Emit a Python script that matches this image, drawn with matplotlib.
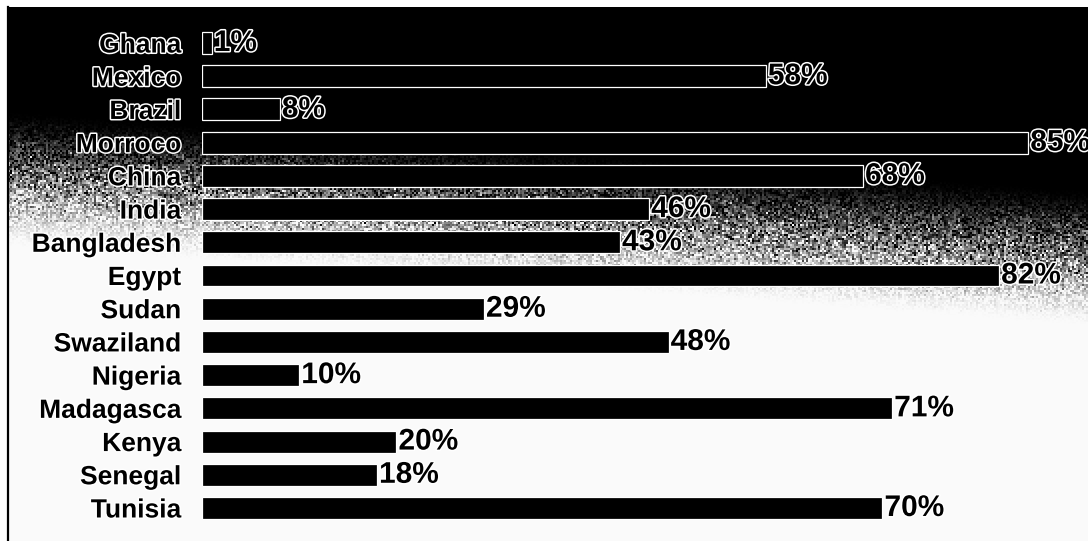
import numpy as np
import matplotlib
matplotlib.use("Agg")
import matplotlib.pyplot as plt
import matplotlib.patheffects as pe
from matplotlib.lines import Line2D

plt.rcParams['font.family'] = ['Liberation Sans', 'DejaVu Sans']

countries = ["Ghana", "Mexico", "Brazil", "Morroco", "China", "India",
             "Bangladesh", "Egypt", "Sudan", "Swaziland", "Nigeria",
             "Madagasca", "Kenya", "Senegal", "Tunisia"]
shares = [1, 58, 8, 85, 68, 46, 43, 82, 29, 48, 10, 71, 20, 18, 70]

W, H = 1088, 541
fig = plt.figure(figsize=(W / 100, H / 100), dpi=100)

# dark sky at the top fading into paper white, boundary tilted left-to-right,
# with coarse print grain inside the fade band
bg = fig.add_axes([0, 0, 1, 1])
yy, xx = np.mgrid[0:H, 0:W]
centre = 178 + 80 * (xx / W)
t = np.clip((yy - centre + 70) / 140.0, 0, 1)
shade = t * t * (3 - 2 * t)
coarse = np.random.default_rng(7).normal(0, 1, (H // 2 + 1, W // 2 + 1))
grain = np.kron(coarse, np.ones((2, 2)))[:H, :W]
band = 4 * shade * (1 - shade)
shade = np.clip(shade + 0.3 * band * grain, 0, 1)
shade = 0.98 * shade
shade[:7, :] = 1.0
shade[:, :7] = 1.0
bg.imshow(shade, cmap="gray", vmin=0, vmax=1, aspect="auto",
          interpolation="nearest", extent=[0, W, H, 0])
bg.set_xlim(0, W)
bg.set_ylim(H, 0)
bg.axis("off")
bg.add_line(Line2D([7.5, 7.5], [7, H], color="black", linewidth=1.6))

# bar axes: category 0 centred 43 px from the top, 33.2 px per row
left_px = 202
step = 33.2
ax = fig.add_axes([left_px / W, 0, 1 - left_px / W, 1])
ax.patch.set_alpha(0)
y = np.arange(len(countries))
ax.barh(y, shares, height=0.66, color="black", edgecolor="white",
        linewidth=0.9)

halo = [pe.withStroke(linewidth=2.2, foreground="white")]
for yi, v in zip(y, shares):
    ax.annotate(f"{v}%", (v, yi), xytext=(1.5, 0), textcoords="offset points",
                ha="left", va="center", fontsize=21.5, fontweight="bold",
                color="black", path_effects=halo)

ax.set_yticks(y)
ax.set_yticklabels(countries, fontsize=19, fontweight="bold")
for lab in ax.get_yticklabels():
    lab.set_path_effects(halo)
ax.tick_params(axis="y", length=0, pad=15)
ax.set_xticks([])
ax.set_xlim(0, (W - left_px) / 9.72)
ax.set_ylim(14 + (H - 508) / step, -43 / step)
for s in ax.spines.values():
    s.set_visible(False)

fig.savefig("out.png", dpi=100)
